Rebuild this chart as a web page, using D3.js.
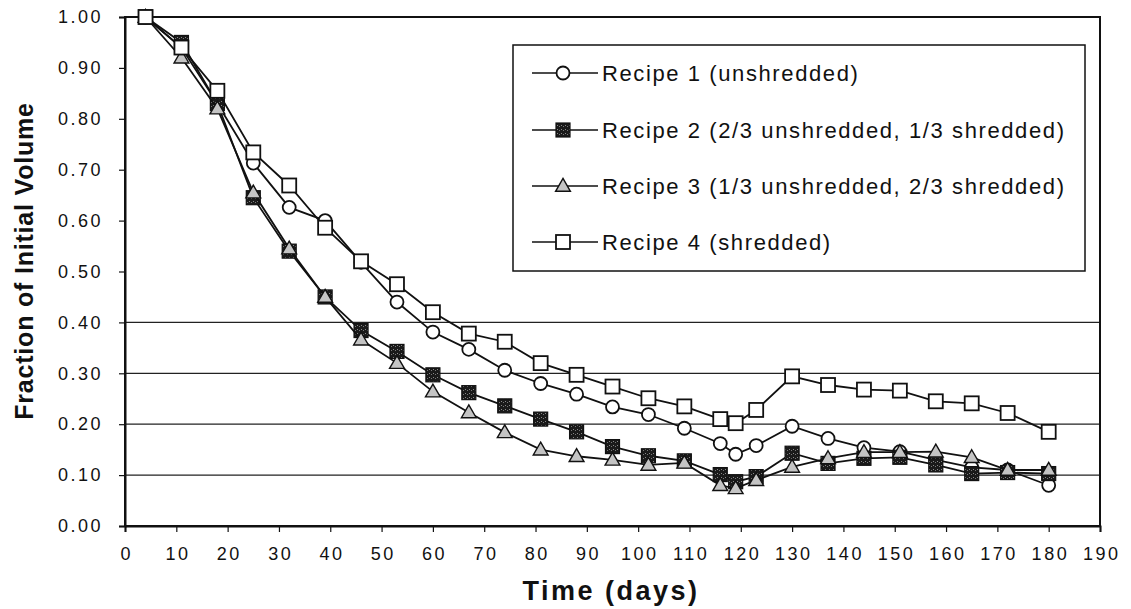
<!DOCTYPE html>
<html>
<head>
<meta charset="utf-8">
<script src="https://cdn.jsdelivr.net/npm/d3@7"></script>
<style>
  body { margin: 0; background: #fff; }
  text { font-family: "Liberation Sans", Arial, sans-serif; fill: #111; }
</style>
</head>
<body>
<div id="graph"></div>
<script>
"use strict";

let width = 1131,
    height = 609;

const margin = { left: 125, right: 31, top: 17, bottom: 85 };

// days of measurement
const days = [4, 11, 18, 25, 32, 39, 46, 53, 60, 67, 74, 81, 88, 95, 102, 109,
              116, 119, 123, 130, 137, 144, 151, 158, 165, 172, 180];

const recipe1 = [1.00, 0.94, 0.83, 0.713, 0.626, 0.600, 0.518, 0.440, 0.381, 0.347, 0.306, 0.280, 0.259, 0.234, 0.219, 0.192,
                 0.162, 0.141, 0.158, 0.196, 0.172, 0.154, 0.146, 0.130, 0.115, 0.110, 0.080];
const recipe2 = [1.00, 0.95, 0.83, 0.645, 0.540, 0.450, 0.384, 0.343, 0.297, 0.262, 0.236, 0.210, 0.185, 0.156, 0.138, 0.128,
                 0.101, 0.087, 0.097, 0.143, 0.123, 0.133, 0.135, 0.120, 0.103, 0.105, 0.103];
const recipe3 = [1.00, 0.92, 0.82, 0.655, 0.545, 0.450, 0.366, 0.320, 0.264, 0.223, 0.184, 0.150, 0.137, 0.130, 0.120, 0.124,
                 0.080, 0.074, 0.090, 0.116, 0.133, 0.145, 0.145, 0.146, 0.135, 0.110, 0.110];
const recipe4 = [1.00, 0.94, 0.855, 0.734, 0.669, 0.586, 0.520, 0.475, 0.420, 0.378, 0.362, 0.320, 0.297, 0.274, 0.251, 0.235,
                 0.210, 0.202, 0.228, 0.294, 0.277, 0.268, 0.266, 0.245, 0.241, 0.222, 0.185];

const seriesNames = ["Recipe 1 (unshredded)",
                     "Recipe 2 (2/3 unshredded, 1/3 shredded)",
                     "Recipe 3 (1/3 unshredded, 2/3 shredded)",
                     "Recipe 4 (shredded)"];

const xTicks = d3.range(0, 191, 10);
const yTicks = d3.range(0, 1.001, 0.1);
const gridTicks = [0.1, 0.2, 0.3, 0.4];

const series = [
    { name: seriesNames[0], values: recipe1, marker: "circle" },
    { name: seriesNames[1], values: recipe2, marker: "darksquare" },
    { name: seriesNames[2], values: recipe3, marker: "triangle" },
    { name: seriesNames[3], values: recipe4, marker: "square" }
];

let svg = d3.select("#graph").append("svg")
    .attr("width", width)
    .attr("height", height);

let x = d3.scaleLinear().domain([0, 190]).range([margin.left, width - margin.right]);
let y = d3.scaleLinear().domain([0, 1]).range([height - margin.bottom + 2, margin.top]);

// gridlines (only the lower ones show in the original)
svg.append("g").selectAll("line")
    .data(gridTicks)
    .enter().append("line")
    .attr("x1", x(0)).attr("x2", x(190))
    .attr("y1", d => y(d)).attr("y2", d => y(d))
    .attr("stroke", "#222").attr("stroke-width", 1.2);

// plot frame
svg.append("rect")
    .attr("x", x(0)).attr("y", y(1))
    .attr("width", x(190) - x(0)).attr("height", y(0) - y(1))
    .attr("fill", "none").attr("stroke", "#111").attr("stroke-width", 2);

// axes
let xAxis = svg.append("g")
    .attr("transform", "translate(0," + y(0) + ")")
    .call(d3.axisBottom(x).tickValues(xTicks).tickSize(6).tickPadding(15).tickFormat(d3.format("d")));
let yAxis = svg.append("g")
    .attr("transform", "translate(" + x(0) + ",0)")
    .call(d3.axisLeft(y).tickValues(yTicks).tickSize(6).tickPadding(16).tickFormat(d3.format(".2f")));

[xAxis, yAxis].forEach(a => {
    a.select(".domain").attr("stroke", "#111").attr("stroke-width", 2);
    a.selectAll(".tick line").attr("stroke", "#111").attr("stroke-width", 1.2);
    a.selectAll(".tick text")
        .style("font-size", "18px")
        .style("letter-spacing", "2.5px")
        .attr("fill", "#111");
});
xAxis.selectAll(".tick text").attr("dx", "1.2px");

// markers
const defs = svg.append("defs");
let pat = defs.append("pattern")
    .attr("id", "speckle").attr("width", 4).attr("height", 4)
    .attr("patternUnits", "userSpaceOnUse");
pat.append("rect").attr("width", 4).attr("height", 4).attr("fill", "#1a1a1a");
pat.append("rect").attr("x", 1).attr("y", 1).attr("width", 1).attr("height", 1).attr("fill", "#888");
pat.append("rect").attr("x", 3).attr("y", 2).attr("width", 1).attr("height", 1).attr("fill", "#777");

function drawMarker(g, type, cx, cy) {
    if (type === "circle") {
        g.append("circle").attr("cx", cx).attr("cy", cy).attr("r", 6.5)
            .attr("fill", "#fff").attr("stroke", "#111").attr("stroke-width", 1.8);
    } else if (type === "square") {
        g.append("rect").attr("x", cx - 7).attr("y", cy - 7).attr("width", 14).attr("height", 14)
            .attr("fill", "#fff").attr("stroke", "#111").attr("stroke-width", 1.8);
    } else if (type === "darksquare") {
        g.append("rect").attr("x", cx - 7).attr("y", cy - 7).attr("width", 14).attr("height", 14)
            .attr("fill", "url(#speckle)").attr("stroke", "#111").attr("stroke-width", 1.2);
    } else {
        g.append("path")
            .attr("d", d3.symbol().type(d3.symbolTriangle).size(95)())
            .attr("transform", "translate(" + cx + "," + (cy + 1) + ")")
            .attr("fill", "#c4c4c4").attr("stroke", "#111").attr("stroke-width", 1.4);
    }
}

let line = d3.line()
    .x((d, i) => x(days[i]))
    .y(d => y(d));

series.forEach(s => {
    let g = svg.append("g");
    g.append("path")
        .attr("d", line(s.values))
        .attr("fill", "none")
        .attr("stroke", "#111")
        .attr("stroke-width", 1.8);
    s.values.forEach((v, i) => drawMarker(g, s.marker, x(days[i]), y(v)));
});

// legend
let legend = svg.append("g");
legend.append("rect")
    .attr("x", 513).attr("y", 45)
    .attr("width", 572).attr("height", 226)
    .attr("fill", "#fff").attr("stroke", "#111").attr("stroke-width", 1.5);

const legendRows = [73, 130, 186, 242];
series.forEach((s, i) => {
    let ly = legendRows[i];
    legend.append("line")
        .attr("x1", 532).attr("x2", 598)
        .attr("y1", ly).attr("y2", ly)
        .attr("stroke", "#111").attr("stroke-width", 1.6);
    drawMarker(legend, s.marker, 563, ly);
    legend.append("text")
        .attr("x", 602).attr("y", ly + 8)
        .style("font-size", "22px")
        .style("letter-spacing", "1.6px")
        .text(s.name);
});

// axis titles
svg.append("text")
    .attr("transform", "translate(33," + 261 + ") rotate(-90)")
    .attr("text-anchor", "middle")
    .style("font-size", "25px")
    .style("font-weight", "bold")
    .style("letter-spacing", "0.8px")
    .text("Fraction of Initial Volume");

svg.append("text")
    .attr("x", 611).attr("y", 600)
    .attr("text-anchor", "middle")
    .style("font-size", "27px")
    .style("font-weight", "bold")
    .style("letter-spacing", "2.5px")
    .text("Time (days)");
</script>
</body>
</html>
